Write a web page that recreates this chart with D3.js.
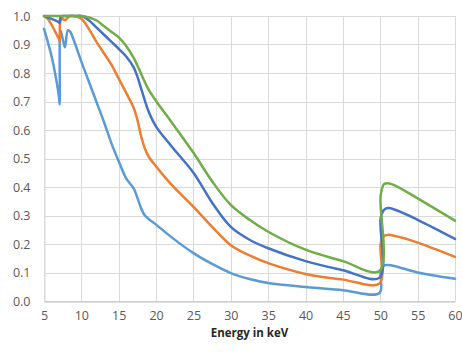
<!DOCTYPE html>
<html>
<head>
<meta charset="utf-8">
<script src="https://cdn.jsdelivr.net/npm/d3@7/dist/d3.min.js"></script>
<style>
  html, body { margin: 0; padding: 0; background: #fff; }
  svg { display: block; }
  text { font-family: "Open Sans", "Liberation Sans", sans-serif; }
</style>
</head>
<body>
<svg id="chart" width="462" height="356"></svg>
<script>
// ---- data ----
const energies = [5, 5.5, 6, 6.5, 7, 7.1, 7.2, 7.5, 7.8, 8.2, 8.5, 9, 10, 11, 12, 13, 14, 15, 16, 17, 17.5, 18, 18.5, 19, 20, 22, 25, 27.5, 30, 32.5, 35, 40, 45, 49.9, 50.05, 50.5, 51, 52, 55, 60];

const seriesLightBlue = [0.955, 0.91, 0.86, 0.797, 0.716, 0.69, 0.95, 0.92, 0.89, 0.95, 0.945, 0.914, 0.84, 0.77, 0.70, 0.63, 0.555, 0.49, 0.43, 0.395, 0.362, 0.325, 0.30, 0.288, 0.268, 0.225, 0.168, 0.13, 0.098, 0.077, 0.063, 0.049, 0.038, 0.028, 0.11, 0.125, 0.126, 0.122, 0.10, 0.078];

const seriesOrange = [1.0, 0.99, 0.97, 0.945, 0.918, 0.91, 0.982, 0.99, 0.985, 0.995, 1.0, 1.0, 0.99, 0.955, 0.91, 0.87, 0.83, 0.78, 0.73, 0.678, 0.635, 0.578, 0.535, 0.507, 0.472, 0.41, 0.33, 0.26, 0.196, 0.16, 0.133, 0.095, 0.075, 0.062, 0.20, 0.228, 0.232, 0.228, 0.205, 0.155];

const seriesDarkBlue = [1.0, 0.995, 0.99, 0.985, 0.978, 0.975, 0.995, 1.0, 1.0, 1.0, 1.0, 1.0, 1.0, 0.985, 0.96, 0.935, 0.91, 0.885, 0.858, 0.82, 0.787, 0.745, 0.703, 0.665, 0.612, 0.545, 0.45, 0.345, 0.26, 0.215, 0.185, 0.14, 0.108, 0.082, 0.29, 0.32, 0.326, 0.32, 0.285, 0.218];

const seriesGreen = [1.0, 1.0, 1.0, 1.0, 1.0, 1.0, 1.0, 1.0, 1.0, 1.0, 1.0, 1.0, 1.0, 0.995, 0.985, 0.965, 0.945, 0.925, 0.895, 0.853, 0.826, 0.797, 0.768, 0.742, 0.702, 0.63, 0.52, 0.42, 0.337, 0.285, 0.243, 0.18, 0.14, 0.105, 0.37, 0.41, 0.413, 0.405, 0.36, 0.282];

const xTicks = [5, 10, 15, 20, 25, 30, 35, 40, 45, 50, 55, 60];
const yTicks = [0, 0.1, 0.2, 0.3, 0.4, 0.5, 0.6, 0.7, 0.8, 0.9, 1.0];
const xTitle = "Energy in keV";

const seriesList = [
  { values: seriesLightBlue, color: "#5B9BD5" },
  { values: seriesOrange,    color: "#ED7D31" },
  { values: seriesDarkBlue,  color: "#4472C4" },
  { values: seriesGreen,     color: "#70AD47" }
];

// ---- layout ----
const margin = { left: 44, right: 7, top: 16, bottom: 55 };
const W = 462, H = 356;
const svg = d3.select("#chart");
svg.append("rect").attr("width", W).attr("height", H).attr("fill", "#fff");

const x = d3.scaleLinear().domain([5, 60]).range([margin.left, W - margin.right]);
const y = d3.scaleLinear().domain([0, 1]).range([H - margin.bottom, margin.top]);

// gridlines
const grid = svg.append("g");
grid.selectAll("line.h").data(yTicks).enter().append("line")
  .attr("x1", x(5)).attr("x2", x(60))
  .attr("y1", d => Math.round(y(d)) + 0.5).attr("y2", d => Math.round(y(d)) + 0.5)
  .attr("stroke", "#d9d9d9").attr("stroke-width", 1);
grid.selectAll("line.v").data(xTicks).enter().append("line")
  .attr("y1", y(0)).attr("y2", y(1))
  .attr("x1", d => Math.round(x(d)) + 0.5).attr("x2", d => Math.round(x(d)) + 0.5)
  .attr("stroke", "#d9d9d9").attr("stroke-width", 1);

// axes
const xAxis = d3.axisBottom(x).tickValues(xTicks).tickSize(0).tickPadding(10).tickFormat(d3.format("d"));
const gx = svg.append("g").attr("transform", `translate(0,${Math.round(y(0)) + 0.5})`).call(xAxis);
gx.select(".domain").attr("stroke", "#bfbfbf");
gx.selectAll("text").attr("fill", "#595959").style("font-size", "12.5px");

const yAxis = d3.axisLeft(y).tickValues(yTicks).tickSize(0).tickPadding(14).tickFormat(d3.format(".1f"));
const gy = svg.append("g").attr("transform", `translate(${Math.round(x(5)) + 0.5},0)`).call(yAxis);
gy.select(".domain").attr("stroke", "#d9d9d9");
gy.selectAll("text").attr("fill", "#595959").style("font-size", "12.5px");

// lines
const line = d3.line()
  .x((d, i) => x(energies[i]))
  .y(d => y(d))
  .curve(d3.curveCatmullRom.alpha(0.5));

svg.append("g").selectAll("path").data(seriesList).enter().append("path")
  .attr("d", s => line(s.values))
  .attr("fill", "none")
  .attr("stroke", s => s.color)
  .attr("stroke-width", 2.5)
  .attr("stroke-linejoin", "round")
  .attr("stroke-linecap", "round");

// title
svg.append("text")
  .attr("x", (x(5) + x(60)) / 2)
  .attr("y", 337)
  .attr("text-anchor", "middle")
  .attr("fill", "#262626")
  .style("font-size", "11.5px")
  .style("font-weight", "bold")
  .text(xTitle);
</script>
</body>
</html>
